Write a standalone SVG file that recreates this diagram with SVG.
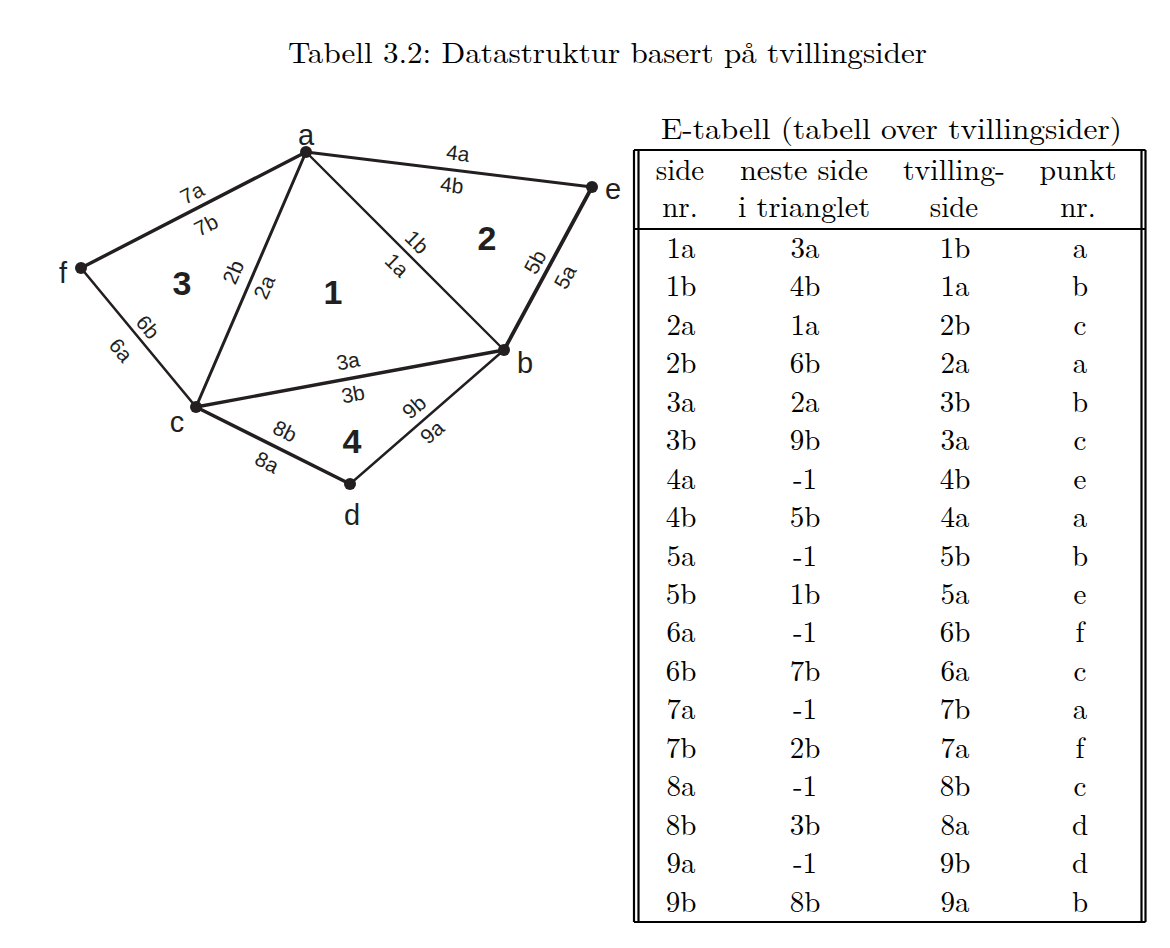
<svg xmlns="http://www.w3.org/2000/svg" width="1170" height="948" viewBox="0 0 1170 948">
<style>
.edge{stroke:#231f20;fill:none;stroke-linecap:round}
.dot{fill:#231f20}
.vl{font-family:"Liberation Sans",Arial,sans-serif;font-size:29px;fill:#231f20;text-anchor:middle}
.fn{font-family:"Liberation Sans",Arial,sans-serif;font-size:34px;font-weight:bold;fill:#231f20;text-anchor:middle}
.el{font-family:"Liberation Sans",Arial,sans-serif;font-size:21px;fill:#231f20;text-anchor:middle}
.tt{font-family:"Latin Modern Roman","Liberation Serif","Times New Roman",serif;font-size:29px;fill:#000}
.tc{font-family:"Latin Modern Roman","Liberation Serif","Times New Roman",serif;font-size:29px;fill:#000;text-anchor:middle}
.tl{stroke:#000;stroke-width:2.2;fill:none}
</style>
<rect width="1170" height="948" fill="#fff"/>
<text class="tt" x="288" y="63" textLength="639" lengthAdjust="spacingAndGlyphs">Tabell 3.2: Datastruktur basert på tvillingsider</text>

<g id="connectors">
<line class="edge" x1="306" y1="152" x2="81" y2="268" stroke-width="3.4"/>
<line class="edge" x1="306" y1="152" x2="592" y2="187" stroke-width="2.9"/>
<line class="edge" x1="306" y1="152" x2="196" y2="407" stroke-width="3"/>
<line class="edge" x1="306" y1="152" x2="504" y2="350" stroke-width="2.4"/>
<line class="edge" x1="592" y1="187" x2="504" y2="350" stroke-width="3.8"/>
<line class="edge" x1="81" y1="268" x2="196" y2="407" stroke-width="2.6"/>
<line class="edge" x1="196" y1="407" x2="504" y2="350" stroke-width="3.4"/>
<line class="edge" x1="196" y1="407" x2="350" y2="484" stroke-width="3.4"/>
<line class="edge" x1="350" y1="484" x2="504" y2="350" stroke-width="2.4"/>
<g id="edge-labels">
<text class="el" transform="translate(192,193) rotate(-27.3)" y="7.5">7a</text>
<text class="el" transform="translate(206,225) rotate(-27.3)" y="7.5">7b</text>
<text class="el" transform="translate(458,153) rotate(7)" y="7.5">4a</text>
<text class="el" transform="translate(452,185) rotate(7)" y="7.5">4b</text>
<text class="el" transform="translate(417,242) rotate(45)" y="7.5">1b</text>
<text class="el" transform="translate(397,265) rotate(45)" y="7.5">1a</text>
<text class="el" transform="translate(233,272) rotate(-66.7)" y="7.5">2b</text>
<text class="el" transform="translate(264,287) rotate(-66.7)" y="7.5">2a</text>
<text class="el" transform="translate(535,262) rotate(-61.6)" y="7.5">5b</text>
<text class="el" transform="translate(565,277) rotate(-61.6)" y="7.5">5a</text>
<text class="el" transform="translate(148,327) rotate(50.4)" y="7.5">6b</text>
<text class="el" transform="translate(121,350) rotate(50.4)" y="7.5">6a</text>
<text class="el" transform="translate(348,361) rotate(-10.5)" y="7.5">3a</text>
<text class="el" transform="translate(353,394) rotate(-10.5)" y="7.5">3b</text>
<text class="el" transform="translate(285,431) rotate(26.6)" y="7.5">8b</text>
<text class="el" transform="translate(267,462) rotate(26.6)" y="7.5">8a</text>
<text class="el" transform="translate(414,407) rotate(-41)" y="7.5">9b</text>
<text class="el" transform="translate(432,432) rotate(-41)" y="7.5">9a</text>
</g>
</g>

<g id="node-a"><circle class="dot" cx="306" cy="152" r="6"/><text class="vl" x="306" y="145">a</text></g>
<g id="node-e"><circle class="dot" cx="592" cy="187" r="6"/><text class="vl" x="613" y="199">e</text></g>
<g id="node-f"><circle class="dot" cx="81" cy="268" r="6"/><text class="vl" x="63" y="283">f</text></g>
<g id="node-b"><circle class="dot" cx="504" cy="350" r="6"/><text class="vl" x="525" y="373">b</text></g>
<g id="node-c"><circle class="dot" cx="196" cy="407" r="6"/><text class="vl" x="177" y="432">c</text></g>
<g id="node-d"><circle class="dot" cx="350" cy="484" r="6"/><text class="vl" x="352" y="525">d</text></g>

<g id="faces">
<text class="fn" x="182" y="295">3</text>
<text class="fn" x="333" y="304">1</text>
<text class="fn" x="487" y="250">2</text>
<text class="fn" x="352" y="453">4</text>
</g>

<g id="e-table">
<text class="tt" x="661" y="138.5" textLength="461" lengthAdjust="spacingAndGlyphs">E-tabell (tabell over tvillingsider)</text>
<line class="tl" x1="634" y1="150" x2="1145.5" y2="150"/>
<line class="tl" x1="634" y1="229" x2="1145.5" y2="229"/>
<line class="tl" x1="634" y1="922" x2="1145.5" y2="922"/>
<line class="tl" x1="634" y1="150" x2="634" y2="922"/>
<line class="tl" x1="638.5" y1="150" x2="638.5" y2="922"/>
<line class="tl" x1="1141.5" y1="150" x2="1141.5" y2="922"/>
<line class="tl" x1="1145.5" y1="150" x2="1145.5" y2="922"/>
<g id="header">
<text class="tc" x="680" y="180">side</text>
<text class="tc" x="804" y="180" textLength="128" lengthAdjust="spacingAndGlyphs">neste side</text>
<text class="tc" x="954" y="180" textLength="102" lengthAdjust="spacingAndGlyphs">tvilling-</text>
<text class="tc" x="1078" y="180" textLength="77" lengthAdjust="spacingAndGlyphs">punkt</text>
<text class="tc" x="680" y="217">nr.</text>
<text class="tc" x="804" y="217" textLength="132" lengthAdjust="spacingAndGlyphs">i trianglet</text>
<text class="tc" x="954" y="217">side</text>
<text class="tc" x="1078" y="217">nr.</text>
</g>
<g id="rows">
<text class="tc" x="681" y="258">1a</text><text class="tc" x="805" y="258">3a</text><text class="tc" x="955" y="258">1b</text><text class="tc" x="1080" y="258">a</text>
<text class="tc" x="681" y="296.4">1b</text><text class="tc" x="805" y="296.4">4b</text><text class="tc" x="955" y="296.4">1a</text><text class="tc" x="1080" y="296.4">b</text>
<text class="tc" x="681" y="334.9">2a</text><text class="tc" x="805" y="334.9">1a</text><text class="tc" x="955" y="334.9">2b</text><text class="tc" x="1080" y="334.9">c</text>
<text class="tc" x="681" y="373.3">2b</text><text class="tc" x="805" y="373.3">6b</text><text class="tc" x="955" y="373.3">2a</text><text class="tc" x="1080" y="373.3">a</text>
<text class="tc" x="681" y="411.8">3a</text><text class="tc" x="805" y="411.8">2a</text><text class="tc" x="955" y="411.8">3b</text><text class="tc" x="1080" y="411.8">b</text>
<text class="tc" x="681" y="450.2">3b</text><text class="tc" x="805" y="450.2">9b</text><text class="tc" x="955" y="450.2">3a</text><text class="tc" x="1080" y="450.2">c</text>
<text class="tc" x="681" y="488.6">4a</text><text class="tc" x="805" y="488.6">-1</text><text class="tc" x="955" y="488.6">4b</text><text class="tc" x="1080" y="488.6">e</text>
<text class="tc" x="681" y="527.1">4b</text><text class="tc" x="805" y="527.1">5b</text><text class="tc" x="955" y="527.1">4a</text><text class="tc" x="1080" y="527.1">a</text>
<text class="tc" x="681" y="565.5">5a</text><text class="tc" x="805" y="565.5">-1</text><text class="tc" x="955" y="565.5">5b</text><text class="tc" x="1080" y="565.5">b</text>
<text class="tc" x="681" y="604">5b</text><text class="tc" x="805" y="604">1b</text><text class="tc" x="955" y="604">5a</text><text class="tc" x="1080" y="604">e</text>
<text class="tc" x="681" y="642.4">6a</text><text class="tc" x="805" y="642.4">-1</text><text class="tc" x="955" y="642.4">6b</text><text class="tc" x="1080" y="642.4">f</text>
<text class="tc" x="681" y="680.8">6b</text><text class="tc" x="805" y="680.8">7b</text><text class="tc" x="955" y="680.8">6a</text><text class="tc" x="1080" y="680.8">c</text>
<text class="tc" x="681" y="719.3">7a</text><text class="tc" x="805" y="719.3">-1</text><text class="tc" x="955" y="719.3">7b</text><text class="tc" x="1080" y="719.3">a</text>
<text class="tc" x="681" y="757.7">7b</text><text class="tc" x="805" y="757.7">2b</text><text class="tc" x="955" y="757.7">7a</text><text class="tc" x="1080" y="757.7">f</text>
<text class="tc" x="681" y="796.2">8a</text><text class="tc" x="805" y="796.2">-1</text><text class="tc" x="955" y="796.2">8b</text><text class="tc" x="1080" y="796.2">c</text>
<text class="tc" x="681" y="834.6">8b</text><text class="tc" x="805" y="834.6">3b</text><text class="tc" x="955" y="834.6">8a</text><text class="tc" x="1080" y="834.6">d</text>
<text class="tc" x="681" y="873">9a</text><text class="tc" x="805" y="873">-1</text><text class="tc" x="955" y="873">9b</text><text class="tc" x="1080" y="873">d</text>
<text class="tc" x="681" y="911.5">9b</text><text class="tc" x="805" y="911.5">8b</text><text class="tc" x="955" y="911.5">9a</text><text class="tc" x="1080" y="911.5">b</text>
</g>
</g>
</svg>
